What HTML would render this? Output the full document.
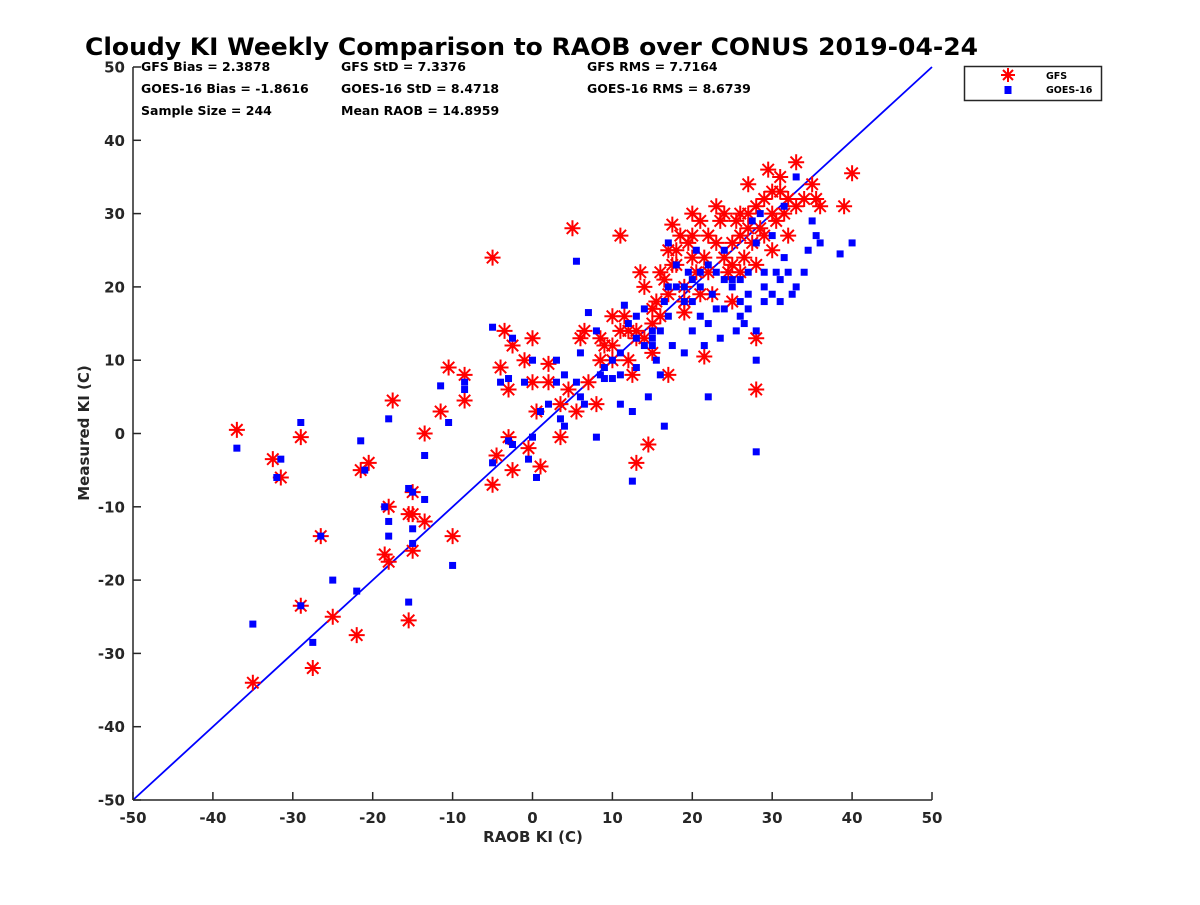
<!DOCTYPE html>
<html><head><meta charset="utf-8"><style>
body{margin:0;background:#fff;}
svg text{font-family:"DejaVu Sans","Liberation Sans",sans-serif;font-weight:bold;fill:#262626;}
</style></head><body>
<svg id="chart" width="1200" height="900" xmlns="http://www.w3.org/2000/svg">
<rect width="1200" height="900" fill="#fff"/>
<text x="85" y="55" textLength="893" lengthAdjust="spacingAndGlyphs" font-size="24" style="fill:#000">Cloudy KI Weekly Comparison to RAOB over CONUS 2019-04-24</text>
<g id="marks"></g>
<g id="axes"></g>
<g font-size="12.5">
<text x="141" y="71" style="fill:#000">GFS Bias = 2.3878</text>
<text x="341" y="71" style="fill:#000">GFS StD = 7.3376</text>
<text x="587" y="71" style="fill:#000">GFS RMS = 7.7164</text>
<text x="141" y="93" style="fill:#000">GOES-16 Bias = -1.8616</text>
<text x="341" y="93" style="fill:#000">GOES-16 StD = 8.4718</text>
<text x="587" y="93" style="fill:#000">GOES-16 RMS = 8.6739</text>
<text x="141" y="115" style="fill:#000">Sample Size = 244</text>
<text x="341" y="115" style="fill:#000">Mean RAOB = 14.8959</text>
</g>
<g>
<rect x="964.5" y="66.5" width="137" height="34" fill="#fff" stroke="#262626" stroke-width="1.5"/>
<g stroke="#ff0000" stroke-width="2">
<line x1="1008" y1="68" x2="1008" y2="82"/><line x1="1001" y1="75" x2="1015" y2="75"/><line x1="1003" y1="70" x2="1013" y2="80"/><line x1="1003" y1="80" x2="1013" y2="70"/></g>
<rect x="1004.5" y="86" width="7" height="8" fill="#0000ff"/>
<text x="1046" y="79" font-size="9.5" style="fill:#000">GFS</text>
<text x="1046" y="93" font-size="9.5" style="fill:#000">GOES-16</text>
</g>
<text x="533" y="842" text-anchor="middle" font-size="15">RAOB KI (C)</text>
<text transform="translate(89,433) rotate(-90)" text-anchor="middle" font-size="15">Measured KI (C)</text>
</svg>
<script>
const xTicks = [-50,-40,-30,-20,-10,0,10,20,30,40,50];
const yTicks = [-50,-40,-30,-20,-10,0,10,20,30,40,50];
const gfsX = [-37,-32.5,-31.5,-29,-29,-27.5,-26.5,-25,-35,-22,-21.5,-20.5,-18.5,-18,-18,-17.5,-15.5,-15.5,-15,-15,-15,-13.5,-13.5,-11.5,-10.5,-10,-8.5,-8.5,-5,-5,-4.5,-4,-3.5,-3,-3,-2.5,-2.5,-1,-0.5,0,0,0.5,1,2,2,3.5,3.5,4.5,5,5.5,6,6.5,7,8,8.5,8.5,9,10,10,11,11.5,12,12.5,13,13,13.5,14,14.5,15,15,15.5,16,16.5,17,17,17.5,17.5,18,18.5,19,19.5,20,20.5,21,21.5,21.5,22,22.5,23,23.5,24,24.5,25,25,25.5,26,26.5,27,27,27.5,28,28,28,28.5,29,29.5,30,30,30.5,31,31,31.5,32,33,33,34,35,35.5,36,39,40,19,20,22,24,26,28,29,23,18,16,14,12,10,15,19,21,25,27,32,30,26,20,17,13,11];
const gfsY = [0.5,-3.5,-6,-0.5,-23.5,-32,-14,-25,-34,-27.5,-5,-4,-16.5,-17.5,-10,4.5,-11,-25.5,-16,-11,-8,-12,0,3,9,-14,4.5,8,-7,24,-3,9,14,6,-0.5,-5,12,10,-2,13,7,3,-4.5,7,9.5,-0.5,4,6,28,3,13,14,7,4,10,13,12,16,12,27,16,10,8,-4,13,22,20,-1.5,17,15,18,22,21,8,19,28.5,23,25,27,20,26,30,22,29,24,10.5,27,19,31,29,30,22,18,26,29,30,24,34,28,26,31,6,13,28,32,36,33,25,29,35,33,30,27,37,31,32,34,32,31,31,35.5,18,24,22,24,22,23,27,26,23,16,13,14,10,11,16.5,19,23,30,32,30,27,27,25,14,14];
const goesX = [-37,-35,-32,-31.5,-29,-29,-27.5,-26.5,-25,-22,-21.5,-21,-18.5,-18,-18,-18,-15.5,-15.5,-15,-15,-15,-13.5,-13.5,-11.5,-10.5,-10,-8.5,-8.5,-5,-5,-4,-3,-3,-2.5,-2.5,-1,-0.5,0,0,0.5,1,2,3,3,3.5,4,4,5.5,5.5,6,6,6.5,7,8,8,8.5,9,10,10,11,11,11.5,12,12.5,12.5,13,13,14,14,14.5,15,15,15.5,16,16.5,16.5,17,17,17.5,18,19,19,19.5,20,20,20.5,21,21,21.5,22,22,22.5,23,23.5,24,24,25,25.5,26,26.5,27,27,27.5,28,28,28,28,28.5,29,29,30,30.5,31,31.5,31.5,32,32.5,33,33,34,34.5,35,35.5,36,38.5,40,19,21,23,25,26,18,15,13,11,9,29,31,27,20,22,16,24,30,26,17];
const goesY = [-2,-26,-6,-3.5,1.5,-23.5,-28.5,-14,-20,-21.5,-1,-5,-10,-12,-14,2,-7.5,-23,-15,-8,-13,-9,-3,6.5,1.5,-18,6,7,14.5,-4,7,-1,7.5,-1.5,13,7,-3.5,-0.5,10,-6,3,4,7,10,2,8,1,23.5,7,11,5,4,16.5,-0.5,14,8,7.5,10,7.5,8,4,17.5,15,3,-6.5,9,16,17,12,5,14,13,10,8,18,1,26,16,12,23,20,11,22,18,14,25,20,16,12,5,23,19,17,13,25,21,21,14,18,15,22,19,29,26,10,-2.5,14,30,22,20,27,22,18,24,31,22,19,35,20,22,25,29,27,26,24.5,26,18,22,22,20,21,20,12,13,11,9,18,21,17,21,15,14,17,19,16,20];

const NS = 'http://www.w3.org/2000/svg';
const X0 = 133, X1 = 932, Y0 = 800, Y1 = 67;
function sx(v){ return X0 + (v + 50) / 100 * (X1 - X0); }
function sy(v){ return Y0 - (v + 50) / 100 * (Y0 - Y1); }
function mk(tag, attrs, parent){ const e = document.createElementNS(NS, tag); for (const k in attrs) e.setAttribute(k, attrs[k]); parent.appendChild(e); return e; }

const marks = document.getElementById('marks');
const axes = document.getElementById('axes');

const ref = mk('line', {x1: sx(-50), y1: sy(-50), x2: sx(50), y2: sy(50), stroke: '#0000ff', 'stroke-width': 1.8}, marks);



const gfsG = mk('g', {stroke: '#ff0000', 'stroke-width': 2}, marks);


for (let i = 0; i < gfsX.length; i++) {
  const cx = sx(gfsX[i]), cy = sy(gfsY[i]), r = 8, d = 5.7;
  const p = mk('path', {d: `M${cx},${cy-r}V${cy+r}M${cx-r},${cy}H${cx+r}M${cx-d},${cy-d}L${cx+d},${cy+d}M${cx-d},${cy+d}L${cx+d},${cy-d}`, fill: 'none'}, gfsG);
  
  
}
const goesG = mk('g', {fill: '#0000ff'}, marks);


for (let i = 0; i < goesX.length; i++) {
  const r = mk('rect', {x: sx(goesX[i]) - 3.5, y: sy(goesY[i]) - 3.5, width: 7, height: 7}, goesG);
  
  
}

const xa = mk('line', {x1: X0, y1: Y0, x2: X1, y2: Y0, stroke: '#262626', 'stroke-width': 1.5}, axes);


const ya = mk('line', {x1: X0, y1: Y0, x2: X0, y2: Y1, stroke: '#262626', 'stroke-width': 1.5}, axes);


xTicks.forEach(t => {
  const l = mk('line', {x1: sx(t), y1: Y0, x2: sx(t), y2: Y0 - 8, stroke: '#262626', 'stroke-width': 1.5}, axes);
  
  
  const tx = mk('text', {x: sx(t), y: Y0 + 23, 'text-anchor': 'middle', 'font-size': 15}, axes);
  tx.textContent = t;
  
  
});
yTicks.forEach(t => {
  const l = mk('line', {x1: X0, y1: sy(t), x2: X0 + 8, y2: sy(t), stroke: '#262626', 'stroke-width': 1.5}, axes);
  
  
  const tx = mk('text', {x: X0 - 8, y: sy(t) + 5.5, 'text-anchor': 'end', 'font-size': 15}, axes);
  tx.textContent = t;
  
  
});
</script>
</body></html>
